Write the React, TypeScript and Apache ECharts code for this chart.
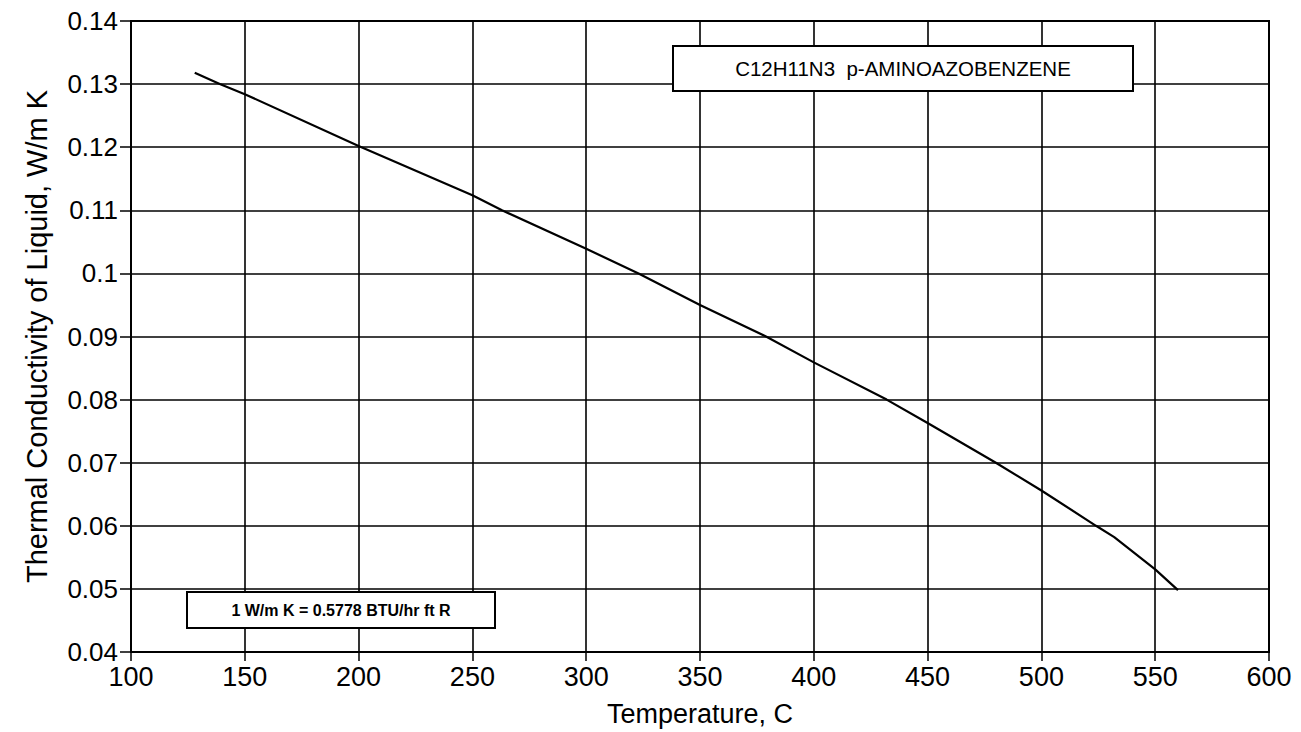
import React, { useEffect, useRef } from "react";
import * as echarts from "echarts";

const temperatures = [128, 139, 150, 200, 250, 263, 300, 323, 350, 379, 400, 432, 450, 480, 500, 524, 532, 550, 560];
const conductivity = [0.1318, 0.13, 0.1284, 0.1202, 0.1124, 0.11, 0.1039, 0.1, 0.095, 0.09, 0.0859, 0.08, 0.0763, 0.07, 0.0656, 0.06, 0.0582, 0.0531, 0.0498];

const titleText = "C12H11N3  p-AMINOAZOBENZENE";
const noteText = "1 W/m K = 0.5778 BTU/hr ft R";
const xTitle = "Temperature, C";
const yTitle = "Thermal Conductivity of Liquid, W/m K";

export default function App() {
  const ref = useRef<HTMLDivElement>(null);
  useEffect(() => {
    if (!ref.current) return;
    const chart = echarts.init(ref.current, null, { renderer: "svg" });
    const font = "Liberation Sans, Arial, Helvetica, sans-serif";
    chart.setOption({
      animation: false,
      backgroundColor: "#ffffff",
      grid: { left: 131, right: 32, top: 21, bottom: 78, show: true, borderColor: "#000", borderWidth: 2 },
      xAxis: {
        type: "value",
        min: 100,
        max: 600,
        interval: 50,
        name: xTitle,
        nameLocation: "middle",
        nameGap: 48,
        nameTextStyle: { fontSize: 27, color: "#000", fontFamily: font },
        axisLine: { show: true, lineStyle: { color: "#000", width: 2 } },
        axisTick: { show: true, length: 9, lineStyle: { color: "#000", width: 1.5 } },
        axisLabel: { fontSize: 27, color: "#000", fontFamily: font, margin: 11 },
        splitLine: { show: true, lineStyle: { color: "#000", width: 1.6 } },
      },
      yAxis: {
        type: "value",
        min: 0.04,
        max: 0.14,
        interval: 0.01,
        name: yTitle,
        nameLocation: "middle",
        nameGap: 80,
        nameTextStyle: { fontSize: 29, color: "#000", fontFamily: font },
        axisLine: { show: true, lineStyle: { color: "#000", width: 2 } },
        axisTick: { show: true, length: 11, lineStyle: { color: "#000", width: 1.5 } },
        axisLabel: {
          fontSize: 26,
          color: "#000",
          fontFamily: font,
          margin: 13,
          formatter: (v: number) => String(+v.toFixed(2)),
        },
        splitLine: { show: true, lineStyle: { color: "#000", width: 1.6 } },
      },
      series: [
        {
          type: "line",
          data: temperatures.map((t, i) => [t, conductivity[i]]),
          showSymbol: false,
          smooth: false,
          lineStyle: { color: "#000", width: 2.2 },
        },
      ],
      graphic: [
        {
          type: "group",
          children: [
            {
              type: "rect",
              shape: { x: 673, y: 46, width: 460, height: 45 },
              style: { fill: "#fff", stroke: "#000", lineWidth: 2 },
              z: 10,
            },
            {
              type: "text",
              x: 903,
              y: 68.5,
              style: { text: titleText, fontSize: 20.5, fontFamily: font, fill: "#000", align: "center", verticalAlign: "middle" },
              z: 11,
            },
            {
              type: "rect",
              shape: { x: 187, y: 592, width: 308, height: 36 },
              style: { fill: "#fff", stroke: "#000", lineWidth: 2 },
              z: 10,
            },
            {
              type: "text",
              x: 341,
              y: 610,
              style: { text: noteText, fontSize: 16, fontWeight: "bold", fontFamily: font, fill: "#000", align: "center", verticalAlign: "middle" },
              z: 11,
            },
          ],
        },
      ],
    });
    return () => chart.dispose();
  }, []);
  return (
    <div
      ref={ref}
      style={{ position: "fixed", left: 0, top: 0, width: 1301, height: 732, background: "#fff" }}
    />
  );
}
